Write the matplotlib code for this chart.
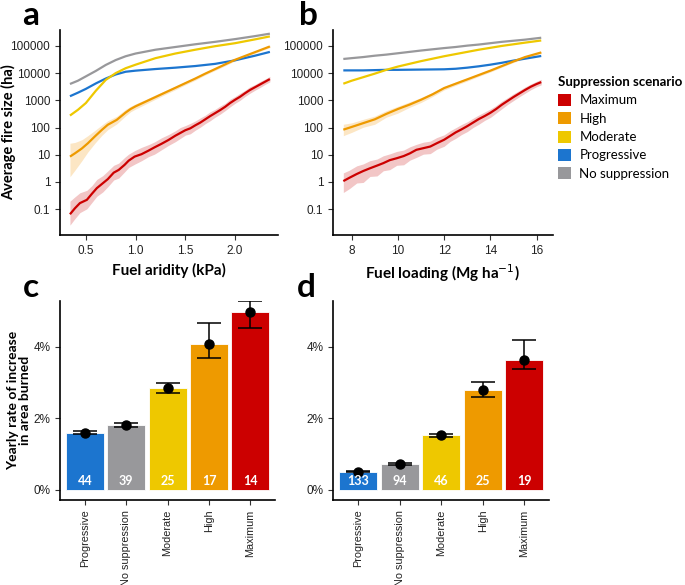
import numpy as np
import matplotlib
matplotlib.use("Agg")
import matplotlib.pyplot as plt
from matplotlib.patches import Patch

plt.rcParams['font.family'] = ['Liberation Sans', 'DejaVu Sans']
LABEL_FONT = ['Lato', 'DejaVu Sans']

# scenario names and colours
scenarios = ["Maximum", "High", "Moderate", "Progressive", "No suppression"]
colors = {"Maximum": "#CC0000", "High": "#EE9A00", "Moderate": "#EEC800",
          "Progressive": "#1C75CF", "No suppression": "#98989B"}
bands = {"Maximum": "#F2C6C6", "High": "#FCE6C4"}

# ---- panel a : fire size vs fuel aridity (log10 of ha) ----
x_max_a = [0.34, 0.39, 0.44, 0.51, 0.56, 0.61, 0.67, 0.72, 0.78, 0.83, 0.89, 0.93, 0.99,
           1.06, 1.13, 1.19, 1.26, 1.33, 1.40, 1.45, 1.50, 1.55, 1.60, 1.65, 1.70, 1.75,
           1.80, 1.85, 1.90, 1.95, 2.00, 2.05, 2.10, 2.15, 2.20, 2.25, 2.30, 2.35]
max_a = [-1.19, -0.97, -0.78, -0.66, -0.44, -0.23, -0.05, 0.10, 0.34, 0.44, 0.63, 0.78, 0.93,
         1.02, 1.15, 1.27, 1.40, 1.54, 1.70, 1.80, 1.90, 1.97, 2.08, 2.18, 2.30, 2.42,
         2.53, 2.64, 2.76, 2.90, 3.02, 3.13, 3.26, 3.38, 3.48, 3.58, 3.68, 3.78]
max_a_lo = [0.40, 0.38, 0.35, 0.33, 0.32, 0.30, 0.32, 0.28, 0.27, 0.30, 0.26, 0.25, 0.28,
            0.24, 0.22, 0.25, 0.22, 0.20, 0.22, 0.20, 0.18, 0.20, 0.18, 0.17, 0.16, 0.17,
            0.15, 0.15, 0.14, 0.14, 0.13, 0.13, 0.12, 0.12, 0.11, 0.11, 0.10, 0.10]
max_a_hi = [0.48, 0.42, 0.38, 0.35, 0.30, 0.32, 0.28, 0.30, 0.27, 0.25, 0.27, 0.24, 0.22,
            0.25, 0.22, 0.20, 0.22, 0.20, 0.18, 0.20, 0.17, 0.18, 0.16, 0.17, 0.15, 0.16,
            0.14, 0.15, 0.13, 0.14, 0.12, 0.13, 0.11, 0.12, 0.10, 0.11, 0.10, 0.10]

x_high_a = [0.34, 0.39, 0.46, 0.52, 0.59, 0.66, 0.72, 0.81, 0.90, 0.95, 1.0, 1.1,
            1.2, 1.3, 1.4, 1.5, 1.6, 1.7, 1.8, 1.9, 2.0, 2.1, 2.2, 2.35]
high_a = [0.93, 1.05, 1.23, 1.42, 1.67, 1.91, 2.10, 2.28, 2.55, 2.68, 2.78, 2.95,
          3.12, 3.29, 3.46, 3.63, 3.80, 3.98, 4.15, 4.32, 4.49, 4.63, 4.77, 4.98]
high_a_lo = [0.74, 0.62, 0.45, 0.32, 0.25, 0.20, 0.18, 0.15, 0.12, 0.10, 0.10, 0.09,
             0.08, 0.07, 0.07, 0.06, 0.06, 0.05, 0.05, 0.05, 0.04, 0.04, 0.04, 0.04]
high_a_hi = [0.49, 0.40, 0.32, 0.28, 0.22, 0.18, 0.15, 0.13, 0.12, 0.10, 0.09, 0.08,
             0.08, 0.07, 0.06, 0.06, 0.05, 0.05, 0.05, 0.04, 0.04, 0.04, 0.04, 0.04]

x_smooth_a = [0.34, 0.42, 0.5, 0.6, 0.7, 0.8, 0.9, 1.0, 1.2, 1.4, 1.6, 1.8, 2.0, 2.2, 2.35]
mod_a = [2.44, 2.65, 2.90, 3.35, 3.75, 4.00, 4.18, 4.31, 4.55, 4.72, 4.86, 4.99, 5.10, 5.24, 5.35]
prog_a = [3.15, 3.28, 3.42, 3.62, 3.80, 3.95, 4.05, 4.09, 4.15, 4.20, 4.26, 4.34, 4.47, 4.64, 4.78]
none_a = [3.60, 3.72, 3.88, 4.08, 4.30, 4.48, 4.62, 4.72, 4.86, 4.96, 5.06, 5.15, 5.25, 5.36, 5.45]

# ---- panel b : fire size vs fuel loading (log10 of ha) ----
x_max_b = [7.64, 7.9, 8.22, 8.5, 8.79, 9.1, 9.37, 9.65, 9.95, 10.25, 10.52, 10.8, 11.1,
           11.4, 11.68, 12.0, 12.26, 12.5, 12.75, 13.0, 13.25, 13.5, 13.75, 14.0, 14.25,
           14.5, 14.75, 15.0, 15.25, 15.5, 15.75, 16.0, 16.2]
max_b = [0.03, 0.15, 0.29, 0.40, 0.50, 0.60, 0.69, 0.80, 0.87, 0.95, 1.05, 1.18, 1.24,
         1.30, 1.42, 1.55, 1.69, 1.82, 1.93, 2.05, 2.18, 2.31, 2.42, 2.54, 2.68,
         2.84, 2.98, 3.12, 3.25, 3.38, 3.50, 3.60, 3.67]
max_b_lo = [0.42, 0.40, 0.33, 0.42, 0.30, 0.38, 0.28, 0.35, 0.26, 0.32, 0.25, 0.28, 0.22,
            0.26, 0.22, 0.24, 0.20, 0.22, 0.19, 0.20, 0.18, 0.19, 0.16, 0.17, 0.15,
            0.15, 0.13, 0.13, 0.12, 0.12, 0.11, 0.10, 0.10]
max_b_hi = [0.30, 0.28, 0.30, 0.26, 0.28, 0.24, 0.27, 0.23, 0.25, 0.22, 0.24, 0.20, 0.22,
            0.20, 0.21, 0.18, 0.19, 0.17, 0.18, 0.16, 0.16, 0.15, 0.15, 0.14, 0.13,
            0.13, 0.12, 0.12, 0.11, 0.11, 0.10, 0.10, 0.10]

x_high_b = [7.64, 8, 8.5, 9, 9.5, 10, 10.5, 11, 11.5, 12, 12.5, 13, 13.5, 14, 14.5, 15, 15.5, 16.2]
high_b = [1.92, 2.02, 2.16, 2.30, 2.50, 2.68, 2.84, 3.02, 3.22, 3.45, 3.61, 3.77,
          3.93, 4.09, 4.26, 4.43, 4.59, 4.76]
high_b_lo = [0.22, 0.20, 0.15, 0.18, 0.12, 0.15, 0.10, 0.10, 0.08, 0.07, 0.06, 0.06,
             0.05, 0.05, 0.04, 0.04, 0.04, 0.04]
high_b_hi = [0.20, 0.15, 0.14, 0.12, 0.12, 0.10, 0.10, 0.08, 0.07, 0.06, 0.06, 0.05,
             0.05, 0.05, 0.04, 0.04, 0.04, 0.04]

x_smooth_b = [7.64, 8, 8.5, 9, 9.5, 10, 11, 12, 12.5, 13, 13.5, 14, 14.5, 15, 15.5, 16.2]
mod_b = [3.61, 3.72, 3.85, 3.98, 4.12, 4.24, 4.44, 4.62, 4.70, 4.78, 4.86, 4.93, 5.00, 5.06, 5.12, 5.20]
prog_b = [4.10, 4.10, 4.10, 4.11, 4.12, 4.12, 4.13, 4.14, 4.16, 4.20, 4.25, 4.31, 4.38, 4.46, 4.53, 4.63]
none_b = [4.52, 4.55, 4.59, 4.64, 4.68, 4.73, 4.83, 4.92, 4.96, 5.01, 5.05, 5.10, 5.15, 5.19, 5.23, 5.30]

# ---- panels c and d : yearly rate of increase (%) ----
bar_order = ["Progressive", "No suppression", "Moderate", "High", "Maximum"]
rate_c = [1.59, 1.81, 2.86, 4.08, 4.99]
rate_c_lo = [1.56, 1.77, 2.72, 3.70, 4.53]
rate_c_hi = [1.64, 1.86, 2.98, 4.68, 5.30]
n_c = [44, 39, 25, 17, 14]

rate_d = [0.51, 0.74, 1.53, 2.79, 3.65]
rate_d_lo = [0.49, 0.71, 1.48, 2.61, 3.38]
rate_d_hi = [0.54, 0.76, 1.58, 3.03, 4.20]
n_d = [133, 94, 46, 25, 19]


def style(ax):
    for s in ["top", "right"]:
        ax.spines[s].set_visible(False)
    for s in ["left", "bottom"]:
        ax.spines[s].set_linewidth(1.2)
    ax.tick_params(width=0.8, length=3.5, labelsize=8.5, colors="#333333")
    ax.tick_params(axis="both", labelcolor="#222222")


def line_panel(ax, lines):
    for x, y, name, lo, hi in lines:
        y = np.array(y)
        if lo is not None:
            ax.fill_between(x, 10 ** (y - np.array(lo)), 10 ** (y + np.array(hi)),
                            color=bands[name], lw=0)
    for x, y, name, lo, hi in lines:
        ax.plot(x, 10 ** np.array(y), color=colors[name], lw=1.6, solid_capstyle="butt")
    ax.set_yscale("log")
    ax.set_ylim(0.011, 3.9e5)
    ticks = [0.1, 1, 10, 100, 1000, 10000, 100000]
    ax.set_yticks(ticks)
    ax.set_yticklabels(["0.1", "1", "10", "100", "1000", "10000", "100000"])
    ax.minorticks_off()
    style(ax)


def bar_panel(ax, rate, lo, hi, n):
    pos = np.arange(len(bar_order))
    ax.bar(pos, rate, width=0.92, color=[colors[k] for k in bar_order],
           edgecolor="white", lw=0.6)
    err = [np.array(rate) - np.array(lo), np.array(hi) - np.array(rate)]
    ax.errorbar(pos, rate, yerr=err, fmt="o", color="black", ms=6.5,
                capsize=8.5, elinewidth=1.1, capthick=1.1)
    for p, v in zip(pos, n):
        ax.text(p, 0.26, str(v), ha="center", va="center", color="white",
                fontsize=9, fontweight="bold", family=LABEL_FONT)
    ax.set_xlim(-0.6, 4.6)
    ax.set_ylim(-0.28, 5.3)
    ax.set_yticks([0, 2, 4])
    ax.set_yticklabels(["0%", "2%", "4%"])
    ax.set_xticks(pos)
    style(ax)
    ax.set_xticklabels(bar_order, rotation=90, fontsize=7.8)


fig = plt.figure(figsize=(6.85, 5.85), dpi=100)

ax_a = fig.add_axes([0.0876, 0.598, 0.318, 0.351])
ax_b = fig.add_axes([0.486, 0.598, 0.321, 0.351])
ax_c = fig.add_axes([0.0876, 0.1453, 0.314, 0.341])
ax_d = fig.add_axes([0.4866, 0.1453, 0.315, 0.341])

line_panel(ax_a, [
    (x_smooth_a, none_a, "No suppression", None, None),
    (x_smooth_a, prog_a, "Progressive", None, None),
    (x_smooth_a, mod_a, "Moderate", None, None),
    (x_high_a, high_a, "High", high_a_lo, high_a_hi),
    (x_max_a, max_a, "Maximum", max_a_lo, max_a_hi),
])
ax_a.set_xlim(0.24, 2.43)
ax_a.set_xticks([0.5, 1.0, 1.5, 2.0])
ax_a.set_xticklabels(["0.5", "1.0", "1.5", "2.0"])
ax_a.set_xlabel("Fuel aridity (kPa)", fontsize=11, fontweight="bold", family=LABEL_FONT, labelpad=4)
ax_a.set_ylabel("Average fire size (ha)", fontsize=10.5, fontweight="bold", family=LABEL_FONT)
ax_a.yaxis.set_label_coords(-0.2, 0.5)

line_panel(ax_b, [
    (x_smooth_b, none_b, "No suppression", None, None),
    (x_smooth_b, prog_b, "Progressive", None, None),
    (x_smooth_b, mod_b, "Moderate", None, None),
    (x_high_b, high_b, "High", high_b_lo, high_b_hi),
    (x_max_b, max_b, "Maximum", max_b_lo, max_b_hi),
])
ax_b.set_xlim(7.19, 16.7)
ax_b.set_xticks([8, 10, 12, 14, 16])
ax_b.set_xlabel("Fuel loading (Mg ha$^{-1}$)", fontsize=11, fontweight="bold", family=LABEL_FONT, labelpad=4)

bar_panel(ax_c, rate_c, rate_c_lo, rate_c_hi, n_c)
ax_c.set_ylabel("Yearly rate of increase\nin area burned", fontsize=10, fontweight="bold",
                family=LABEL_FONT, linespacing=0.95)
ax_c.yaxis.set_label_coords(-0.137, 0.5)
bar_panel(ax_d, rate_d, rate_d_lo, rate_d_hi, n_d)

# panel letters
for lbl, (x, y) in zip("abcd", [(0.033, 0.957), (0.437, 0.957), (0.033, 0.492), (0.434, 0.492)]):
    fig.text(x, y, lbl, fontsize=24, fontweight="bold", family=LABEL_FONT, va="baseline")

handles = [Patch(facecolor=colors[k], edgecolor="none") for k in scenarios]
leg = fig.legend(handles, scenarios, loc="upper left", bbox_to_anchor=(0.815, 0.87),
                 frameon=False, title="Suppression scenario", handlelength=1.0,
                 handleheight=1.0, handletextpad=0.6, labelspacing=0.45,
                 borderpad=0, borderaxespad=0,
                 prop={"family": LABEL_FONT, "size": 9.5})
leg.get_title().set_fontweight("bold")
leg.get_title().set_family(LABEL_FONT)
leg.get_title().set_fontsize(9.5)
leg._legend_box.align = "left"

fig.savefig("out.png", dpi=100)
